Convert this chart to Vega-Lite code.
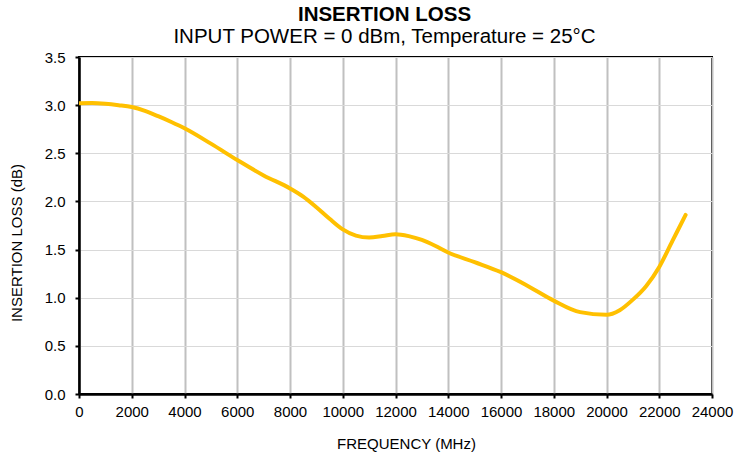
{
  "$schema": "https://vega.github.io/schema/vega-lite/v6.json",
  "width": 633,
  "height": 337,
  "autosize": "none",
  "padding": {"left": 79, "top": 57, "right": 22, "bottom": 59},
  "background": "white",
  "title": {
    "text": "INSERTION LOSS",
    "subtitle": "INPUT POWER = 0 dBm, Temperature = 25°C",
    "anchor": "middle",
    "font": "Liberation Sans",
    "fontSize": 20.5,
    "fontWeight": "bold",
    "color": "black",
    "subtitleFont": "Liberation Sans",
    "subtitleFontSize": 20.5,
    "subtitleColor": "black",
    "subtitlePadding": 1,
    "offset": 3,
    "dx": -11
  },
  "data": {
    "values": [
      {"f": 0, "il": 3.02},
      {"f": 500, "il": 3.022},
      {"f": 1000, "il": 3.015},
      {"f": 1500, "il": 3.0},
      {"f": 2000, "il": 2.98},
      {"f": 2500, "il": 2.94},
      {"f": 3000, "il": 2.885},
      {"f": 3500, "il": 2.825},
      {"f": 4000, "il": 2.76},
      {"f": 5000, "il": 2.6},
      {"f": 6000, "il": 2.43},
      {"f": 7000, "il": 2.27},
      {"f": 8000, "il": 2.135},
      {"f": 8500, "il": 2.05},
      {"f": 9000, "il": 1.94},
      {"f": 9500, "il": 1.82},
      {"f": 10000, "il": 1.71},
      {"f": 10500, "il": 1.645},
      {"f": 11000, "il": 1.625},
      {"f": 11500, "il": 1.64},
      {"f": 12000, "il": 1.66},
      {"f": 12500, "il": 1.64},
      {"f": 13000, "il": 1.6},
      {"f": 13500, "il": 1.54},
      {"f": 14000, "il": 1.47},
      {"f": 15000, "il": 1.37},
      {"f": 16000, "il": 1.265},
      {"f": 17000, "il": 1.125},
      {"f": 18000, "il": 0.97},
      {"f": 19000, "il": 0.85},
      {"f": 20000, "il": 0.822},
      {"f": 20500, "il": 0.87},
      {"f": 21000, "il": 0.98},
      {"f": 21500, "il": 1.12},
      {"f": 22000, "il": 1.32},
      {"f": 22500, "il": 1.59},
      {"f": 23000, "il": 1.86}
    ]
  },
  "mark": {"type": "line", "interpolate": "monotone", "color": "#FFC000", "strokeWidth": 4, "strokeCap": "round", "clip": true},
  "encoding": {
    "x": {
      "field": "f",
      "type": "quantitative",
      "scale": {"domain": [0, 24000], "nice": false, "zero": true},
      "axis": {
        "title": "FREQUENCY (MHz)",
        "values": [0, 2000, 4000, 6000, 8000, 10000, 12000, 14000, 16000, 18000, 20000, 22000, 24000],
        "format": "d",
        "labelPadding": 6,
        "titleX": 327,
        "titleY": 54,
        "titleBaseline": "alphabetic",
        "titleAlign": "center"
      }
    },
    "y": {
      "field": "il",
      "type": "quantitative",
      "scale": {"domain": [0, 3.5], "nice": false},
      "axis": {
        "title": "INSERTION LOSS (dB)",
        "values": [0, 0.5, 1, 1.5, 2, 2.5, 3, 3.5],
        "format": ".1f",
        "labelPadding": 10,
        "titleX": -57.5,
        "titleY": 185.5,
        "titleAngle": -90,
        "titleBaseline": "alphabetic",
        "titleAlign": "center"
      }
    }
  },
  "config": {
    "view": {"stroke": "black", "strokeWidth": 2},
    "axis": {
      "labelFont": "Liberation Sans",
      "labelFontSize": 15,
      "labelColor": "black",
      "titleFont": "Liberation Sans",
      "titleFontSize": 15,
      "titleFontWeight": "normal",
      "titleColor": "black",
      "domainColor": "black",
      "domainWidth": 2.5,
      "tickColor": "black",
      "tickWidth": 2,
      "tickSize": 4
    },
    "axisX": {"gridColor": "#c0c0c0", "gridWidth": 2, "gridOpacity": 1, "labelFlush": false},
    "axisY": {"gridColor": "#d9d9d9", "gridWidth": 1, "gridOpacity": 1}
  }
}
